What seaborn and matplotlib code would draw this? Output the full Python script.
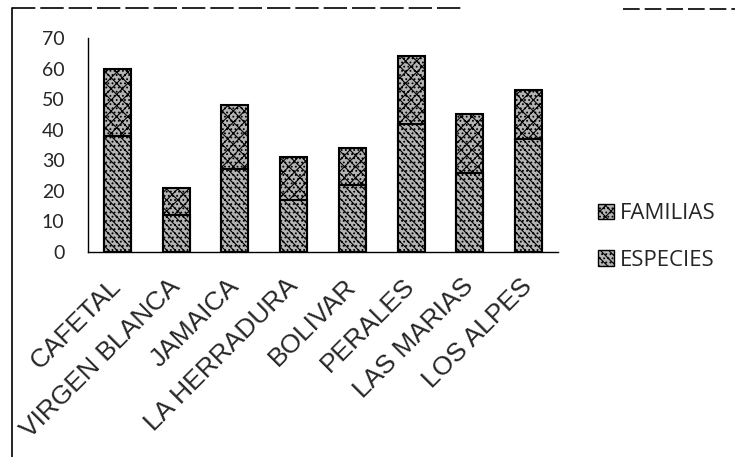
import matplotlib
matplotlib.use("Agg")
import matplotlib.pyplot as plt
import matplotlib.patches as mpatches
import matplotlib.lines as mlines
import seaborn as sns
import pandas as pd

# Riqueza por localidad
localidades = ["CAFETAL", "VIRGEN BLANCA", "JAMAICA", "LA HERRADURA",
               "BOLIVAR", "PERALES", "LAS MARIAS", "LOS ALPES"]
especies = [38, 12, 27, 17, 22, 42, 26, 37]
familias = [22, 9, 21, 14, 12, 22, 19, 16]
series = ["FAMILIAS", "ESPECIES"]
y_ticks = [0, 10, 20, 30, 40, 50, 60, 70]

df = pd.DataFrame({"localidad": localidades,
                   "especies": especies,
                   "familias": familias})
df["total"] = df["especies"] + df["familias"]

sns.set_style("white")
plt.rcParams["font.family"] = ["Lato", "DejaVu Sans"]
plt.rcParams["hatch.linewidth"] = 0.8
plt.rcParams["hatch.color"] = "black"

W, H = 735, 457
fig = plt.figure(figsize=(W / 100, H / 100), dpi=100)
ax = fig.add_axes([88 / W, 1 - 252 / H, (558 - 88) / W, (252 - 38) / H])

face = "#b4b4b4"
hatch_fam = "xxx...."
hatch_esp = "\\\\\\\\...."

# stacked columns: total height (familias on top), then especies over the base
sns.barplot(data=df, x="localidad", y="total", color=face, saturation=1,
            width=0.46, edgecolor="black", linewidth=1.5, ax=ax)
sns.barplot(data=df, x="localidad", y="especies", color=face, saturation=1,
            width=0.46, edgecolor="black", linewidth=1.5, ax=ax)

n = len(localidades)
for i, p in enumerate(ax.patches):
    p.set_hatch(hatch_fam if i < n else hatch_esp)

ax.set_xlim(-0.5, n - 0.5)
ax.set_ylim(0, 70)
ax.set_yticks(y_ticks)
ax.set_xlabel("")
ax.set_ylabel("")

for s in ["top", "right"]:
    ax.spines[s].set_visible(False)
for s in ["left", "bottom"]:
    ax.spines[s].set_color("black")
    ax.spines[s].set_linewidth(1.0)

ax.tick_params(axis="y", which="major", direction="out", length=4,
               width=1, color="black", pad=13, labelsize=14)
ax.tick_params(axis="x", which="major", length=0, pad=22)
ax.set_xticks([i - 0.5 for i in range(n + 1)], minor=True)
ax.tick_params(axis="x", which="minor", direction="out", length=6,
               width=1, color="black")
ax.set_xticks(range(n))
ax.set_xticklabels(localidades, rotation=45, ha="right", va="center",
                   rotation_mode="anchor", fontsize=19,
                   family=["Liberation Sans", "DejaVu Sans"])

handles = [
    mpatches.Patch(facecolor=face, edgecolor="black", hatch=hatch_fam, label=series[0]),
    mpatches.Patch(facecolor=face, edgecolor="black", hatch=hatch_esp, label=series[1]),
]
fig.legend(handles=handles, loc="center left", bbox_to_anchor=(578 / W, 1 - 237 / H),
           frameon=False, handlelength=0.7, handleheight=0.7,
           handletextpad=0.3, labelspacing=1.15,
           prop={"family": ["Open Sans", "DejaVu Sans"], "size": 16})

# chart frame
frame = dict(transform=fig.transFigure, color="black", lw=1.2)
fig.add_artist(mlines.Line2D([12 / W, 12 / W], [0, 1 - 8 / H], **frame))
fig.add_artist(mlines.Line2D([12 / W, 463 / W], [1 - 8 / H, 1 - 8 / H],
                             linestyle=(0, (14, 3)), **frame))
fig.add_artist(mlines.Line2D([623 / W, 1], [1 - 9 / H, 1 - 9 / H],
                             linestyle=(0, (10, 3)), **frame))

fig.savefig("out.png", dpi=100)
